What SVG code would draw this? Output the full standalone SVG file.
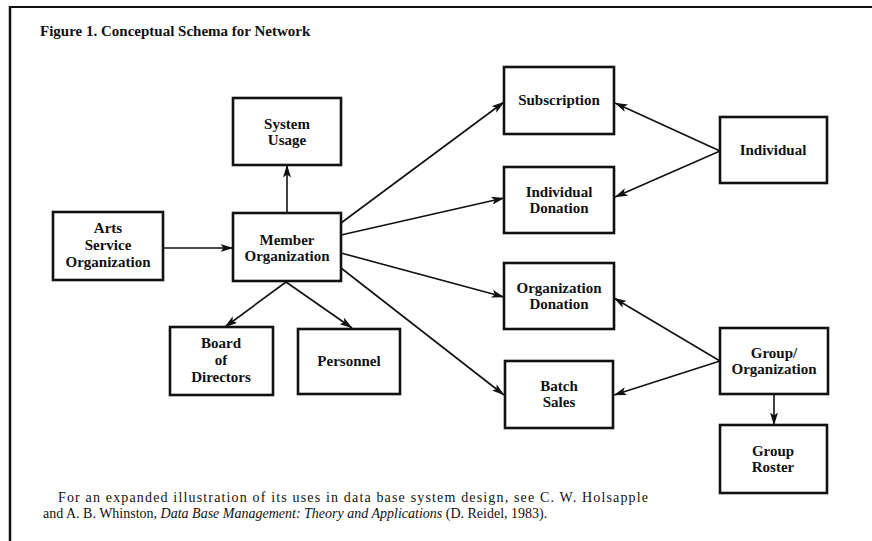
<svg xmlns="http://www.w3.org/2000/svg" width="872" height="541" viewBox="0 0 872 541">
<defs>
<marker id="ah" viewBox="0 0 13 8" refX="12.5" refY="4" markerWidth="13" markerHeight="8" markerUnits="userSpaceOnUse" orient="auto">
<path d="M0,0 L13,4 L0,8 L3,4 z" fill="#111"/>
</marker>
<style>
.box{fill:#fff;stroke:#111;stroke-width:2.6}
.lbl{font-family:"Liberation Serif","Times New Roman",serif;font-weight:bold;font-size:15px;fill:#111;text-anchor:middle}
.con{stroke:#111;stroke-width:1.6;fill:none;marker-end:url(#ah)}
.ttl{font-family:"Liberation Serif","Times New Roman",serif;font-weight:bold;font-size:15px;fill:#111}
.fn{font-family:"Liberation Serif","Times New Roman",serif;font-size:14px;fill:#111}
</style>
</defs>
<rect width="872" height="541" fill="#fff"/>
<g id="frame">
<line x1="10" y1="7" x2="872" y2="7" stroke="#111" stroke-width="2"/>
<line x1="10" y1="6" x2="10" y2="541" stroke="#111" stroke-width="2.5"/>
</g>
<text class="ttl" x="40" y="36">Figure 1. Conceptual Schema for Network</text>
<g id="connectors">
<line class="con" x1="163" y1="248" x2="233" y2="248"/>
<line class="con" x1="287" y1="213" x2="287" y2="165"/>
<line class="con" x1="286" y1="282" x2="225" y2="327"/>
<line class="con" x1="286" y1="282" x2="352" y2="328"/>
<line class="con" x1="341" y1="223" x2="504" y2="102"/>
<line class="con" x1="341" y1="235" x2="504" y2="198"/>
<line class="con" x1="341" y1="253" x2="504" y2="297"/>
<line class="con" x1="341" y1="268" x2="504" y2="395"/>
<line class="con" x1="720" y1="151" x2="615" y2="103"/>
<line class="con" x1="720" y1="151" x2="615" y2="197"/>
<line class="con" x1="720" y1="361" x2="614" y2="298"/>
<line class="con" x1="720" y1="361" x2="614" y2="395"/>
<line class="con" x1="774" y1="394" x2="774" y2="425"/>
</g>
<g id="system-usage">
<rect class="box" x="233" y="98" width="108" height="67"/>
<text class="lbl" x="287" y="129">System</text>
<text class="lbl" x="287" y="145">Usage</text>
</g>
<g id="arts-service-organization">
<rect class="box" x="53" y="212" width="110" height="68"/>
<text class="lbl" x="108" y="233">Arts</text>
<text class="lbl" x="108" y="250">Service</text>
<text class="lbl" x="108" y="267">Organization</text>
</g>
<g id="member-organization">
<rect class="box" x="233" y="213" width="108" height="68"/>
<text class="lbl" x="287" y="245">Member</text>
<text class="lbl" x="287" y="261">Organization</text>
</g>
<g id="board-of-directors">
<rect class="box" x="170" y="327" width="103" height="68"/>
<text class="lbl" x="221" y="348">Board</text>
<text class="lbl" x="221" y="365">of</text>
<text class="lbl" x="221" y="382">Directors</text>
</g>
<g id="personnel">
<rect class="box" x="298" y="329" width="102" height="65"/>
<text class="lbl" x="349" y="366">Personnel</text>
</g>
<g id="subscription">
<rect class="box" x="504" y="67" width="110" height="67"/>
<text class="lbl" x="559" y="105">Subscription</text>
</g>
<g id="individual-donation">
<rect class="box" x="504" y="167" width="110" height="66"/>
<text class="lbl" x="559" y="197">Individual</text>
<text class="lbl" x="559" y="213">Donation</text>
</g>
<g id="organization-donation">
<rect class="box" x="504" y="263" width="110" height="66"/>
<text class="lbl" x="559" y="293">Organization</text>
<text class="lbl" x="559" y="309">Donation</text>
</g>
<g id="batch-sales">
<rect class="box" x="505" y="361" width="108" height="67"/>
<text class="lbl" x="559" y="391">Batch</text>
<text class="lbl" x="559" y="407">Sales</text>
</g>
<g id="individual">
<rect class="box" x="720" y="117" width="107" height="66"/>
<text class="lbl" x="773" y="155">Individual</text>
</g>
<g id="group-organization">
<rect class="box" x="720" y="328" width="108" height="66"/>
<text class="lbl" x="774" y="358">Group/</text>
<text class="lbl" x="774" y="374">Organization</text>
</g>
<g id="group-roster">
<rect class="box" x="720" y="425" width="107" height="68"/>
<text class="lbl" x="773" y="456">Group</text>
<text class="lbl" x="773" y="472">Roster</text>
</g>
<text class="fn" x="58" y="502" textLength="590" lengthAdjust="spacing">For an expanded illustration of its uses in data base system design, see C. W. Holsapple</text>
<text class="fn" x="43" y="518">and A. B. Whinston, <tspan font-style="italic">Data Base Management: Theory and Applications</tspan> (D. Reidel, 1983).</text>
</svg>
